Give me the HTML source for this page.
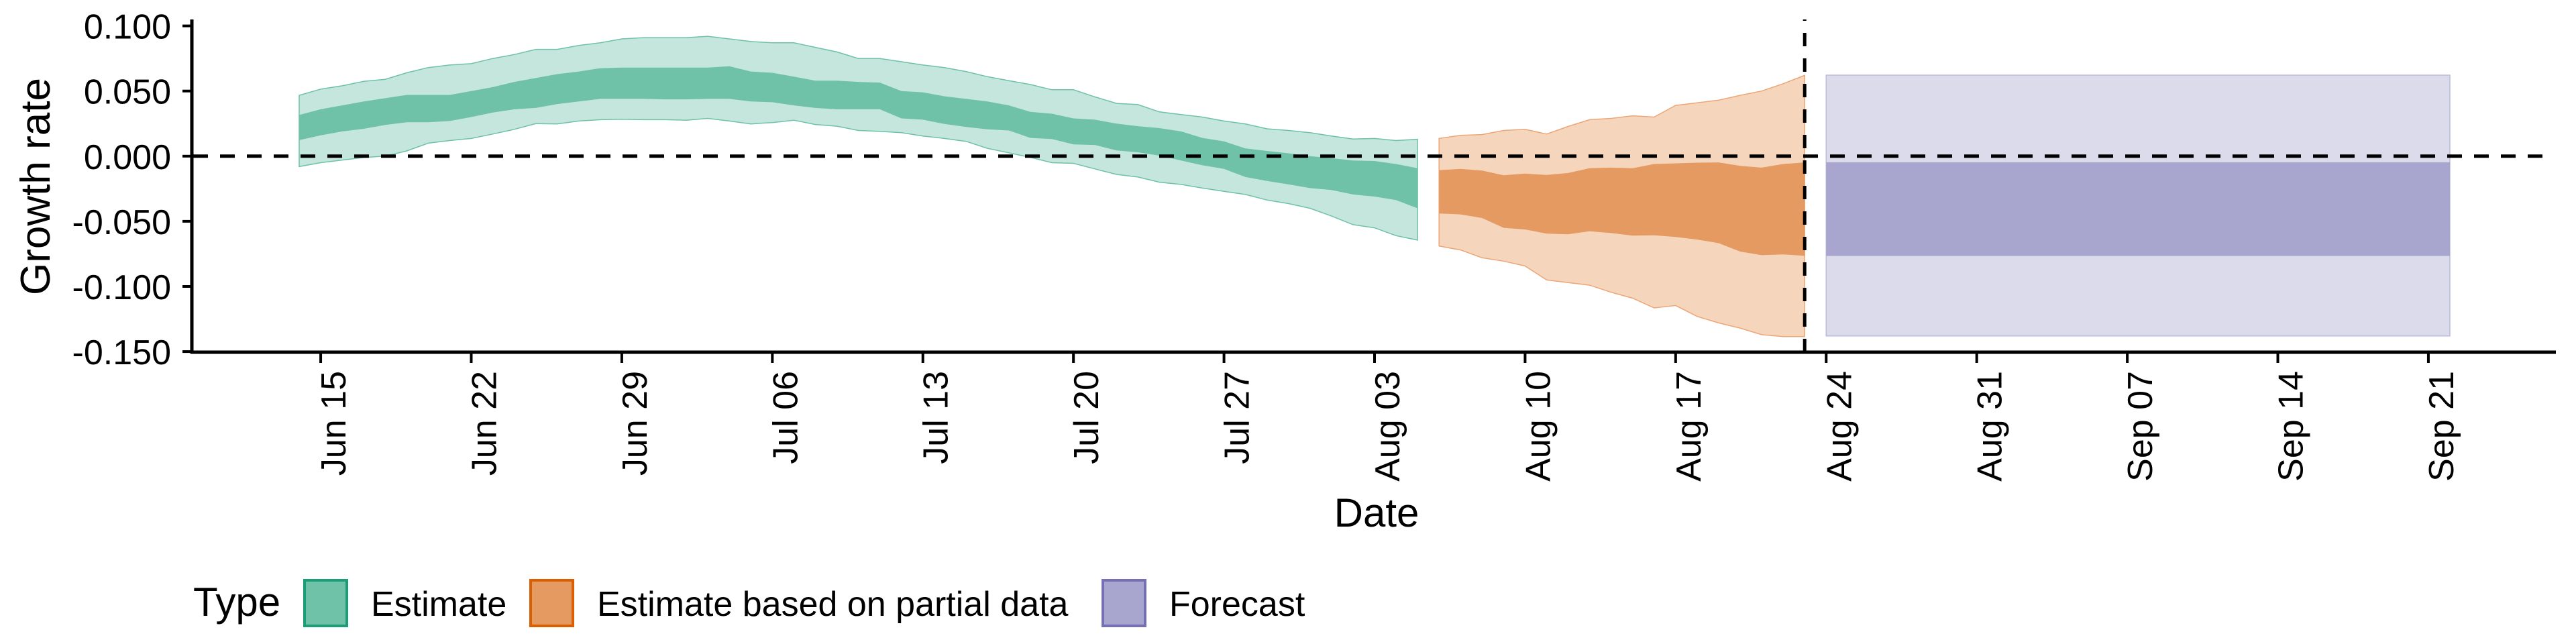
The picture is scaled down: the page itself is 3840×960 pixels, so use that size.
<!DOCTYPE html>
<html><head><meta charset="utf-8"><style>
html,body{margin:0;padding:0;background:#fff;}
svg{display:block;font-family:"Liberation Sans",Arial,sans-serif;}
</style></head><body>
<svg id="chart" width="3840" height="960" viewBox="0 0 3840 960" xmlns="http://www.w3.org/2000/svg">
  <g id="bands"></g>
  <g id="axes"></g>
  <text x="0" y="0" transform="translate(74,278) rotate(-90)" text-anchor="middle" font-size="62">Growth rate</text>
  <text x="2052" y="785" text-anchor="middle" font-size="60">Date</text>
  <g>
    <text x="288" y="918" font-size="60">Type</text>
    <rect x="454" y="865" width="63" height="68" fill="#6fc1a8" stroke="#1b9e77" stroke-width="4"/>
    <text x="553" y="918" font-size="52">Estimate</text>
    <rect x="791" y="865" width="63" height="68" fill="#e59a61" stroke="#d95f02" stroke-width="4"/>
    <text x="890" y="918" font-size="52">Estimate based on partial data</text>
    <rect x="1644" y="865" width="63" height="68" fill="#a8a6cf" stroke="#7570b3" stroke-width="4"/>
    <text x="1743" y="918" font-size="52">Forecast</text>
  </g>
</svg>
<script>
// ---- data (days offset from Jun 14) ----
const estStartDay = 0;
const estOuterTop = [0.0467,0.0515,0.054,0.0574,0.059,0.064,0.068,0.070,0.071,0.075,0.078,0.082,0.082,0.085,0.087,0.090,0.091,0.091,0.091,0.092,0.090,0.088,0.087,0.087,0.0835,0.080,0.075,0.075,0.0725,0.070,0.068,0.065,0.061,0.058,0.055,0.051,0.051,0.0455,0.0405,0.0396,0.034,0.032,0.030,0.027,0.0247,0.021,0.0197,0.018,0.0155,0.0132,0.0136,0.012,0.013];
const estInnerTop = [0.0316,0.036,0.039,0.042,0.0445,0.047,0.047,0.047,0.050,0.053,0.057,0.060,0.063,0.065,0.0675,0.068,0.068,0.068,0.068,0.068,0.069,0.065,0.064,0.061,0.058,0.058,0.057,0.0565,0.050,0.049,0.046,0.044,0.042,0.039,0.034,0.0326,0.029,0.028,0.025,0.023,0.0215,0.019,0.014,0.0114,0.0059,0.004,0.0022,0.000,-0.0015,-0.0033,-0.0037,-0.006,-0.0092];
const estInnerBot = [0.0123,0.016,0.019,0.021,0.024,0.026,0.026,0.027,0.030,0.0335,0.036,0.037,0.040,0.042,0.044,0.044,0.044,0.0436,0.0436,0.044,0.044,0.042,0.0414,0.039,0.037,0.036,0.036,0.036,0.029,0.028,0.0247,0.0224,0.0206,0.0197,0.014,0.0132,0.009,0.0086,0.0044,0.003,0.0004,-0.0033,-0.007,-0.0098,-0.016,-0.019,-0.0217,-0.0245,-0.026,-0.0294,-0.031,-0.0337,-0.040];
const estOuterBot = [-0.008,-0.005,-0.003,-0.001,0.000,0.004,0.010,0.012,0.0136,0.017,0.0206,0.025,0.0247,0.027,0.028,0.0283,0.028,0.028,0.0276,0.029,0.027,0.0247,0.0258,0.0276,0.0243,0.023,0.0197,0.019,0.018,0.0155,0.0136,0.0114,0.006,0.0026,-0.001,-0.005,-0.0055,-0.0098,-0.014,-0.016,-0.020,-0.0217,-0.0245,-0.027,-0.0294,-0.0337,-0.0364,-0.040,-0.046,-0.0526,-0.055,-0.061,-0.0644];
const partStartDay = 53;
const partOuterTop = [0.0136,0.016,0.0166,0.0197,0.0206,0.017,0.0228,0.028,0.029,0.031,0.030,0.039,0.041,0.043,0.0467,0.050,0.0556,0.062];
const partInnerTop = [-0.0107,-0.0098,-0.011,-0.0147,-0.0134,-0.0144,-0.0129,-0.0092,-0.0088,-0.0092,-0.006,-0.0055,-0.005,-0.0048,-0.0074,-0.0088,-0.006,-0.0048];
const partInnerBot = [-0.044,-0.0447,-0.0475,-0.055,-0.0563,-0.0594,-0.060,-0.0576,-0.059,-0.061,-0.0607,-0.062,-0.064,-0.0668,-0.0732,-0.076,-0.0754,-0.0765];
const partOuterBot = [-0.069,-0.072,-0.078,-0.0806,-0.0843,-0.095,-0.097,-0.099,-0.1045,-0.109,-0.1165,-0.1146,-0.123,-0.128,-0.132,-0.137,-0.1385,-0.1385];
const forecastDays = [71, 100];
const forecastOuter = [-0.138, 0.0622];
const forecastInner = [-0.0766, -0.0047];
const cutoffDay = 70;
const yTicks = [0.100, 0.050, 0.000, -0.050, -0.100, -0.150];
const yTickLabels = ["0.100","0.050","0.000","-0.050","-0.100","-0.150"];
const xTickDays = [1,8,15,22,29,36,43,50,57,64,71,78,85,92,99];
const xTickLabels = ["Jun 15","Jun 22","Jun 29","Jul 06","Jul 13","Jul 20","Jul 27","Aug 03","Aug 10","Aug 17","Aug 24","Aug 31","Sep 07","Sep 14","Sep 21"];

// ---- scales ----
const X0 = 446, DAY = 32.06;
const xs = d => X0 + d * DAY;
const Y0 = 232.8, PER = 97.1 / 0.05;
const ys = v => Y0 - v * PER;
const NS = "http://www.w3.org/2000/svg";
function mk(tag, attrs, parent) {
  const e = document.createElementNS(NS, tag);
  for (const k in attrs) e.setAttribute(k, attrs[k]);
  parent.appendChild(e);
  return e;
}
const bands = document.getElementById('bands');
const axes = document.getElementById('axes');

function ribbon(start, top, bot, fill, stroke, name) {
  let pts = [];
  top.forEach((v, i) => pts.push(xs(start + i).toFixed(1) + ',' + ys(v).toFixed(1)));
  for (let i = bot.length - 1; i >= 0; i--) pts.push(xs(start + i).toFixed(1) + ',' + ys(bot[i]).toFixed(1));
  const p = mk('polygon', {points: pts.join(' '), fill: fill, stroke: stroke, 'stroke-width': stroke === 'none' ? 0 : 1.5}, bands);
  
  
}
ribbon(estStartDay, estOuterTop, estOuterBot, '#c5e6dc', '#6fc1a8', 'estimate-outer-band');
ribbon(estStartDay, estInnerTop, estInnerBot, '#6fc1a8', 'none', 'estimate-inner-band');
ribbon(partStartDay, partOuterTop, partOuterBot, '#f5d6bd', '#eba677', 'partial-outer-band');
ribbon(partStartDay, partInnerTop, partInnerBot, '#e59a61', 'none', 'partial-inner-band');

const fo = mk('rect', {x: xs(forecastDays[0]), y: ys(forecastOuter[1]), width: xs(forecastDays[1]) - xs(forecastDays[0]), height: ys(forecastOuter[0]) - ys(forecastOuter[1]), fill: '#dcdbeb', stroke: '#bdbadb', 'stroke-width': 1.5}, bands);


const fi = mk('rect', {x: xs(forecastDays[0]), y: ys(forecastInner[1]), width: xs(forecastDays[1]) - xs(forecastDays[0]), height: ys(forecastInner[0]) - ys(forecastInner[1]), fill: '#a8a6cf'}, bands);



// reference lines
const hz = mk('line', {x1: 288, x2: 3798, y1: ys(0), y2: ys(0), stroke: '#000', 'stroke-width': 5, 'stroke-dasharray': '22 18'}, axes);


const vt = mk('line', {x1: xs(cutoffDay), x2: xs(cutoffDay), y1: 525, y2: 29, stroke: '#000', 'stroke-width': 5, 'stroke-dasharray': '20 18'}, axes);



// axis lines
const ya = mk('line', {x1: 286, x2: 286, y1: 29, y2: 527, stroke: '#000', 'stroke-width': 5}, axes);


const xa = mk('line', {x1: 284, x2: 3810, y1: 525, y2: 525, stroke: '#000', 'stroke-width': 5}, axes);



yTicks.forEach((v, i) => {
  const t = mk('line', {x1: 272, x2: 286, y1: ys(v), y2: ys(v), stroke: '#000', 'stroke-width': 4}, axes);
  
  
  const l = mk('text', {x: 255, y: ys(v) + 19, 'text-anchor': 'end', 'font-size': 52}, axes);
  l.textContent = yTickLabels[i];
  
  
});
xTickDays.forEach((d, i) => {
  const x = xs(d);
  const t = mk('line', {x1: x, x2: x, y1: 525, y2: 541, stroke: '#000', 'stroke-width': 4}, axes);
  
  
  const l = mk('text', {x: 0, y: 0, 'text-anchor': 'end', 'font-size': 52, transform: 'translate(' + (x + 37).toFixed(1) + ',553) rotate(-90)'}, axes);
  l.textContent = xTickLabels[i];
  
  
});
</script>
</body></html>
